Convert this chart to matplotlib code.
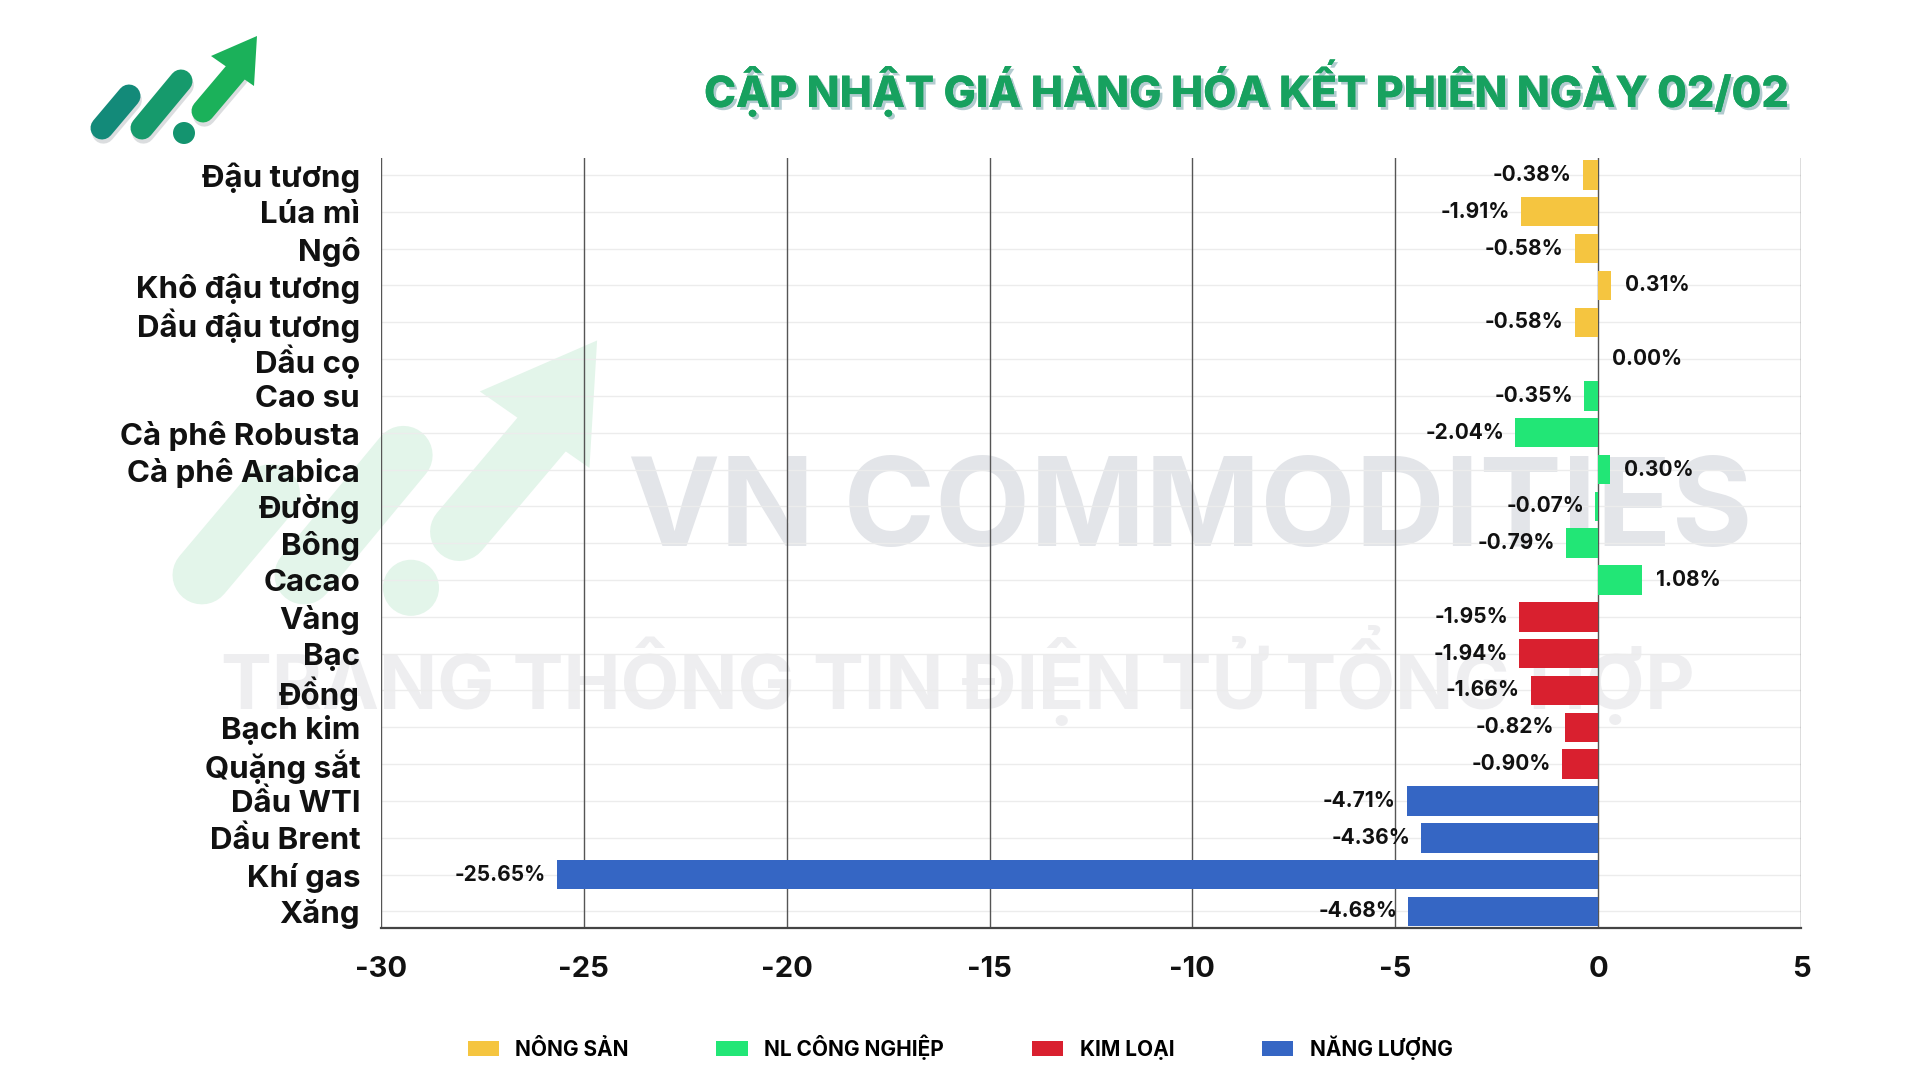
import matplotlib
matplotlib.use("Agg")
import matplotlib.pyplot as plt
import matplotlib.patheffects as pe
from matplotlib.lines import Line2D
from matplotlib.patches import Polygon, Ellipse

# ---------------- data ----------------
categories = ["Đậu tương", "Lúa mì", "Ngô", "Khô đậu tương", "Dầu đậu tương",
              "Dầu cọ", "Cao su", "Cà phê Robusta", "Cà phê Arabica", "Đường",
              "Bông", "Cacao", "Vàng", "Bạc", "Đồng", "Bạch kim", "Quặng sắt",
              "Dầu WTI", "Dầu Brent", "Khí gas", "Xăng"]
values = [-0.38, -1.91, -0.58, 0.31, -0.58,
          0.00, -0.35, -2.04, 0.30, -0.07,
          -0.79, 1.08, -1.95, -1.94, -1.66, -0.82, -0.90,
          -4.71, -4.36, -25.65, -4.68]
groups = ["NÔNG SẢN"] * 5 + ["NL CÔNG NGHIỆP"] * 7 + ["KIM LOẠI"] * 5 + ["NĂNG LƯỢNG"] * 4
group_names = ["NÔNG SẢN", "NL CÔNG NGHIỆP", "KIM LOẠI", "NĂNG LƯỢNG"]
group_colors = ["#f5c540", "#22e676", "#d9202f", "#3566c4"]
x_ticks = [-30, -25, -20, -15, -10, -5, 0, 5]
title = "CẬP NHẬT GIÁ HÀNG HÓA KẾT PHIÊN NGÀY 02/02"

FONT = ["Inter", "DejaVu Sans"]
plt.rcParams["font.family"] = FONT

W, H = 1920, 1080
fig = plt.figure(figsize=(19.2, 10.8), dpi=100)
fig.patch.set_facecolor("white")


def fx(x):
    return x / W


def fy(y):
    return 1 - y / H


def draw_logo(ox, oy, s, cols, alpha=1.0, z=1, shadow=False):
    def P(x, y):
        return fx(ox + s * (x - 95)), fy(oy + s * (y - 37))
    lw = 23 * s * 0.72
    segs = [((102, 128), (129, 96), cols[0]),
            ((142, 128), (181, 81), cols[1]),
            ((203, 111), (236, 72), cols[3])]
    eff = [pe.SimpleLineShadow(offset=(1, -3), shadow_color="#9aa0a6", alpha=0.35), pe.Normal()] if shadow else None
    for (a, b, c) in segs:
        p1, p2 = P(*a), P(*b)
        fig.add_artist(Line2D([p1[0], p2[0]], [p1[1], p2[1]], transform=fig.transFigure,
                              lw=lw, color=c, solid_capstyle="round", alpha=alpha, zorder=z,
                              path_effects=eff))
    cx, cy = P(184, 133)
    r = 11 * s
    fig.add_artist(Ellipse((cx, cy), width=2 * r / W, height=2 * r / H, transform=fig.transFigure,
                           color=cols[2], alpha=alpha, zorder=z, lw=0))
    fig.add_artist(Polygon([P(257, 36), P(211, 56), P(254, 86)], closed=True,
                           transform=fig.transFigure, color=cols[3], alpha=alpha, zorder=z, lw=0))


# watermark logo (faded, large)
draw_logo(184, 343, 2.55, ["#e3f5ea"] * 4, z=-5)
# main logo
draw_logo(95, 37, 1.0, ["#138a79", "#169a6c", "#14946f", "#1bb15a"], z=5, shadow=True)

# watermark texts
fig.text(fx(1190), fy(514), "VN COMMODITIES", ha="center", va="center", fontsize=89,
         fontweight="bold", color="#e3e5e9", zorder=-4)
fig.text(fx(958), fy(676), "TRANG THÔNG TIN ĐIỆN TỬ TỔNG HỢP", ha="center", va="center",
         fontsize=55, fontweight="bold", color="#eeeef0", zorder=-4)

# ---------------- axes ----------------
ax = fig.add_axes([381 / W, 1 - 928 / H, (1801 - 381) / W, (928 - 158) / H])
ax.set_facecolor("none")
ax.set_zorder(1)

pos = list(range(len(categories)))
for gname, gcol in zip(group_names, group_colors):
    idx = [i for i, g in enumerate(groups) if g == gname]
    ax.barh([pos[i] for i in idx], [values[i] for i in idx], height=0.8,
            color=gcol, label=gname, zorder=3)

ax.set_xlim(-30, 5)
ax.set_ylim(20.45, -0.46)
ax.set_yticks(pos)
ax.set_yticklabels(categories, fontsize=22.5, fontweight="bold", color="#111111")
ax.set_xticks(x_ticks)
ax.set_xticklabels([str(t) for t in x_ticks], fontsize=21, fontweight="bold", color="#111111")
ax.tick_params(axis="both", length=0)
ax.tick_params(axis="y", pad=15)
ax.tick_params(axis="x", pad=20)

# grid lines
for t in x_ticks:
    ax.axvline(t, color="#555555", lw=1.0, zorder=1)
for p in pos:
    ax.axhline(p, color="#ececec", lw=1.0, zorder=0.5)
for s in ["top", "left", "right"]:
    ax.spines[s].set_visible(False)
ax.spines["bottom"].set_color("#444444")
ax.spines["bottom"].set_linewidth(1.6)

# value labels
for p, v in zip(pos, values):
    txt = f"{v:.2f}%"
    if v < 0:
        ax.annotate(txt, (v, p), xytext=(-8, 0), textcoords="offset points",
                    ha="right", va="center", fontsize=15, fontweight="bold", color="#111111", zorder=6)
    else:
        ax.annotate(txt, (v, p), xytext=(10, 0), textcoords="offset points",
                    ha="left", va="center", fontsize=15, fontweight="bold", color="#111111", zorder=6)

# title
fig.text(fx(1791), fy(88), title, ha="right", va="center", fontsize=31, fontweight="heavy",
         color="#17a15f",
         path_effects=[pe.withSimplePatchShadow(offset=(2, -2), shadow_rgbFace="#7fa9b0", alpha=0.6),
                       pe.Normal()])

# legend
fig.legend(loc="center", bbox_to_anchor=(0.5, fy(1047)), ncol=4, frameon=False,
           prop={"size": 15, "weight": "bold", "family": FONT},
           handlelength=1.5, handleheight=0.75, handletextpad=0.8, columnspacing=4.2)

fig.savefig("out.png", dpi=100, facecolor="white")
